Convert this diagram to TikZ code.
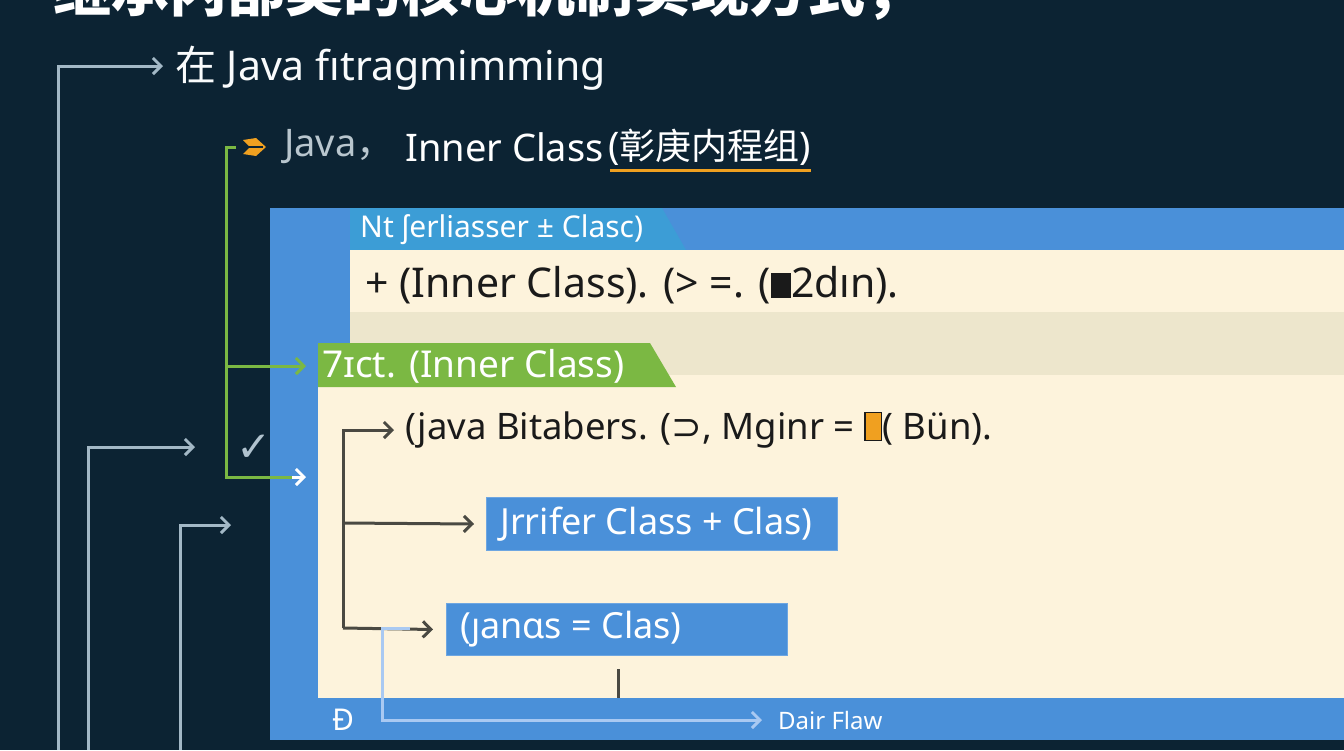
\documentclass[tikz,border=0pt]{standalone}
\usepackage{fontspec}
\setmainfont{Noto Sans}
\newfontfamily\cjk{Noto Sans CJK SC}
\newfontfamily\dvs{DejaVu Sans}
\usetikzlibrary{arrows.meta,calc}
\definecolor{bg}{HTML}{0C2333}
\definecolor{panel}{HTML}{4A90D9}
\definecolor{tabc}{HTML}{3C9DD6}
\definecolor{cream}{HTML}{FDF3DC}
\definecolor{band}{HTML}{EDE6CC}
\definecolor{grn}{HTML}{7BB843}
\definecolor{lgt}{HTML}{A3B8C6}
\definecolor{drk}{HTML}{4A4942}
\definecolor{orng}{HTML}{F0A020}
\definecolor{lblue}{HTML}{A9C9F2}
\definecolor{txtd}{HTML}{1A1A1A}
\definecolor{javag}{HTML}{B9C6CE}
\newcommand{\obox}{{\setlength\fboxsep{0pt}\setlength\fboxrule{1.5pt}\fcolorbox{txtd}{orng}{\rule{0pt}{0.72em}\hspace{0.42em}}}}
\begin{document}
\begin{tikzpicture}[x=1pt,y=-1pt,
  fsz/.style={font=\fontsize{#1}{#1}\selectfont},
  txt/.style={anchor=west, inner sep=0pt},
  lightarrow/.style={draw=lgt, line width=3pt, -{Straight Barb[length=8pt,width=16pt]}},
  greenline/.style={draw=grn, line width=3pt},
  darkarrow/.style={draw=drk, line width=3pt, -{Straight Barb[length=8pt,width=16pt]}},
  bluebox/.style={fill=panel, draw=panel!80!white, line width=1pt, text=white, inner xsep=0pt, inner ysep=0pt, anchor=north west}
]
\useasboundingbox (0,0) rectangle (1344,750);
\fill[bg] (0,0) rectangle (1344,750);
\begin{scope}
\clip (0,0) rectangle (1344,750);
\node[anchor=base west, inner sep=0pt, fsz=58, text=white] (title) at (53,11) {\cjk\bfseries 继承内部类的核心机制实现方式，};
\end{scope}

% top line
\node[txt, fsz=41, text=white!94!lgt] (l1) at (175,68) {{\cjk 在} Java fıtragmimming};
\coordinate (s1) at (58,750);
\draw[lightarrow] (s1) |- ($(l1.west)+(-12,-2)$);

% second line
\fill[orng] (243,140) -- (256,138) -- (266,147) -- (256,156) -- (243,154) -- (250,147) -- cycle;
\draw[bg, line width=1.2pt] (247,147) -- (263,147);
\node[txt, fsz=38, text=javag] (l2a) at (284,147) {Java{\cjk ，}};
\node[txt, fsz=38, text=white] (l2b) at (405,147) {Inner Class};
\node[txt, fsz=38, text=white] (l2c) at (608,147) {({\cjk\fontsize{36}{36}\selectfont 彰庚内程组})};
\draw[orng, line width=3pt] ($(l2c.south west)+(2,5)$) -- ($(l2c.south east)+(0,5)$);

% blue panel
\fill[panel] (270,208) rectangle (1344,740);
\fill[tabc] (350,208) -- (662,208) -- (686,250) -- (350,250) -- cycle;
\node[txt, fsz=30, text=white] (tab1) at (360,230) {Nt ʃerliasser ± Clasc)};
\fill[cream] (350,250) rectangle (1344,312);
\fill[band] (350,312) rectangle (1344,375);
\fill[cream] (318,375) rectangle (1344,698);
\fill[grn] (318,343) -- (650,343) -- (676,387) -- (318,387) -- cycle;
\node[txt, fsz=37, text=white] (tab2) at (322,366) {7ɪct. (Inner Class)};

\node[txt, fsz=41, text=txtd] (l3) at (365,285) {+ (Inner Class). (> =. ({\rule[-0.02em]{0.5em}{0.62em}}2dın).};
\node[txt, fsz=36.5, text=txtd] (l4) at (405,430) {(java Bitabers. ({\dvs ⊃}, Mginr = \obox( Bün).};

% green bracket
\coordinate (g0) at (236,147);
\coordinate (g1) at (226,147);
\coordinate (g2) at (226,477);
\coordinate (g3) at (292,477);
\coordinate (gm) at (226,366);
\coordinate (gt) at (306,366);
\coordinate (gw) at (306,477);
\draw[greenline] (g0) -- (g1) -- (g2) -- (g3);
\draw[greenline, -{Straight Barb[length=8pt,width=16pt]}] (gm) -- (gt);
\draw[draw=white, line width=3pt, -{Straight Barb[length=8pt,width=16pt]}] (g3) -- (gw);
\node[fsz=42, text=lgt!85!white] (chk) at (254,448) {\dvs ✓};

% other light arrows
\coordinate (s2) at (88,750);
\coordinate (e2) at (195,447);
\coordinate (s3) at (180,750);
\coordinate (e3) at (231,525);
\draw[lightarrow] (s2) |- (e2);
\draw[lightarrow] (s3) |- (e3);

% blue boxes
\node[bluebox, minimum width=351pt, minimum height=53pt] (b1) at (486,497) {};
\node[txt, fsz=36, text=white] (b1t) at ($(b1.west)+(14,0)$) {Jrrifer Class + Clas)};
\node[bluebox, minimum width=341pt, minimum height=52pt] (b2) at (446,603) {};
\node[txt, fsz=36, text=white] (b2t) at ($(b2.west)+(14,0)$) {(ȷanɑs = Clas)};

% dark connectors
\coordinate (d0) at (343,430);
\coordinate (d1) at (343,523);
\coordinate (d2) at (343,628);
\draw[darkarrow] (d2) -- (d0) -- ($(l4.west)+(-11,0)$);
\draw[darkarrow] (d1) -- ($(b1.west)+(-12,0)$);
\draw[darkarrow] (d2) -- ($(b2.west)+(-13,0)$);
\draw[drk, line width=3pt] ($(b2.south)+(1.5,13)$) -- ($(b2.south)+(1.5,42)$);

% bottom band
\node[fsz=30, text=white] (sym) at (343,720) {Ð};
\node[txt, fsz=24, text=white] (df) at (778,720) {Dair Flaw};
\coordinate (lb0) at (410,628);
\coordinate (lb1) at (382,628);
\draw[lblue, line width=3pt, -{Straight Barb[length=8pt,width=16pt]}] (lb0) -- (lb1) |- ($(df.west)+(-16,0)$);
\end{tikzpicture}
\end{document}
